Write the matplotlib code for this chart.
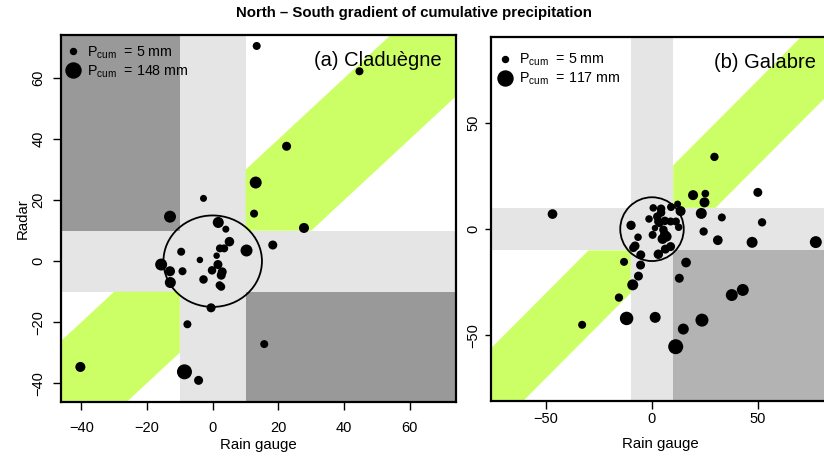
import numpy as np
import matplotlib
matplotlib.use('Agg')
import matplotlib.pyplot as plt
from matplotlib.patches import Circle, Rectangle
from matplotlib.lines import Line2D

plt.rcParams['font.family'] = ['Liberation Sans', 'DejaVu Sans']
plt.rcParams['mathtext.fontset'] = 'custom'
plt.rcParams['mathtext.rm'] = 'Liberation Sans'
plt.rcParams['mathtext.it'] = 'Liberation Sans:italic'

# (a) Claduegne : ecart pluviometre / radar, cumul de pluie (mm)
gauge_a = [13.4, 44.7, 22.5, 13.1, 12.6, 27.8, -2.8, -13.0, 1.7, 4.0,
           5.1, 18.3, 10.3, 2.2, 3.5, -9.6, -3.9, 1.2, 1.6, -15.7,
           -13.0, -9.2, -0.2, 2.9, 2.6, -2.8, -12.9, 2.1, 2.6, -0.5,
           -7.7, 15.7, -40.3, -8.6, -4.3]
radar_a = [70.6, 62.3, 37.7, 25.8, 15.6, 10.9, 20.6, 14.6, 12.7, 10.5,
           6.4, 5.3, 3.5, 4.2, 4.2, 3.1, 0.4, 1.8, -1.1, -1.1,
           -3.3, -3.3, -3.0, -3.5, -4.6, -6.0, -7.0, -7.9, -8.4, -15.3,
           -20.7, -27.2, -34.7, -36.3, -39.1]
pcum_a = [37, 37, 53, 100, 37, 69, 21, 100, 85, 21,
          61, 53, 100, 37, 37, 37, 13, 13, 53, 100,
          69, 37, 45, 53, 53, 45, 85, 37, 37, 53,
          37, 37, 69, 148, 53]

# (b) Galabre
gauge_b = [-47.0, 29.5, 19.4, 25.2, 24.8, 50.0, 23.3, 33.0, 52.0, 24.4,
           31.1, 47.3, 77.4, -9.9, -13.2, -5.4, -6.4, -9.1, -15.6, -33.0,
           -12.0, 1.5, 23.6, 14.8, 11.2, 16.1, 12.9, 37.7, 42.9,
           0.6, 4.3, 4.3, 9.0, 12.1, 13.5, -1.4, 2.5, 3.0, 3.5,
           6.1, 8.8, 11.3, 12.6, 1.4, 5.4, 0.3, 6.1, 6.9, 5.0,
           -6.6, -8.0, -8.8, 8.8, 6.3, 3.0, -5.3]
radar_b = [7.1, 34.0, 16.0, 16.7, 12.6, 17.3, 7.4, 5.5, 3.2, -1.1,
           -5.2, -6.2, -6.1, 1.8, -15.4, -16.9, -22.1, -26.2, -32.2, -45.0,
           -42.0, -41.5, -42.8, -47.0, -55.3, -15.7, -23.1, -31.0, -28.6,
           10.0, 9.6, 7.8, 10.4, 11.8, 8.5, 4.8, 5.9, 3.6, 2.8,
           3.9, 3.6, 3.6, 0.9, 0.5, -0.3, -2.7, -2.7, -3.5, -4.6,
           -3.8, -7.9, -8.8, -8.2, -9.4, -11.8, -12.1]
pcum_b = [51, 34, 55, 26, 55, 42, 67, 30, 34, 34,
          51, 67, 79, 46, 30, 42, 42, 67, 34, 30,
          98, 67, 92, 67, 117, 51, 42, 79, 79,
          24, 36, 36, 30, 17, 55, 24, 36, 36, 30,
          36, 30, 30, 24, 11, 36, 30, 55, 55, 55,
          24, 42, 36, 42, 42, 48, 42]

legende_a = [5, 148]
legende_b = [5, 117]

seuil = 10    # bandes grises +/- 10 mm
bande = 20    # demi-largeur de la bande verte autour de y = x
rayon = 15    # cercle central

gris_clair = '#E5E5E5'
vert = '#CCFF66'


def diametre(p, pmin, pmax):
    # diametre en pixels (dpi 100)
    return 6 + 9 * (np.asarray(p, float) - pmin) / (pmax - pmin)


def panneau(ax, gx, ry, pc, leg, gris_fonce, deux_coins, nom, xlim, ylim, ticks_x, ticks_y,
            leg_pos, tx, ty, xlabpad):
    big = 1000
    ax.axvspan(-seuil, seuil, color=gris_clair, lw=0, zorder=0)
    ax.axhspan(-seuil, seuil, color=gris_clair, lw=0, zorder=0)
    ax.add_patch(Rectangle((seuil, -big), big, big - seuil, color=gris_fonce, lw=0, zorder=0))
    if deux_coins:
        ax.add_patch(Rectangle((-big, seuil), big - seuil, big, color=gris_fonce, lw=0, zorder=0))

    # bande verte (|radar - pluvio| < 20) hors des bandes grises
    xh = np.array([seuil, seuil + bande, big])
    ax.fill_between(xh, np.maximum(xh - bande, seuil), xh + bande, color=vert, lw=0, zorder=0.5)
    xb = np.array([-big, -seuil - bande, -seuil])
    ax.fill_between(xb, xb - bande, np.minimum(xb + bande, -seuil), color=vert, lw=0, zorder=0.5)

    ax.add_patch(Circle((0, 0), rayon, fill=False, ec='black', lw=1.3, zorder=2))

    d = diametre(pc, leg[0], leg[1])
    ax.scatter(gx, ry, s=(0.72 * d) ** 2, c='black', edgecolors='none', zorder=3)

    poignees = [Line2D([], [], ls='', marker='o', color='black',
                       markersize=0.72 * diametre(v, leg[0], leg[1])) for v in leg]
    etiquettes = [r'$\mathrm{P_{cum}}$  = %d mm' % v for v in leg]
    ax.legend(poignees, etiquettes, loc='upper left', bbox_to_anchor=leg_pos,
              frameon=False, borderpad=0, borderaxespad=0, handlelength=1.0,
              handletextpad=0.5, labelspacing=0.18, fontsize=10.3)

    ax.annotate(nom, xy=(1, 1), xycoords='axes fraction', xytext=(-10, -18),
                textcoords='offset points', ha='right', va='center', fontsize=14.5)

    ax.set_xticks(ticks_x)
    ax.set_yticks(ticks_y)
    ax.set_xlim(xlim)
    ax.set_ylim(ylim)
    ax.tick_params(axis='x', length=tx[0], width=1, labelsize=10.5, pad=tx[1])
    ax.tick_params(axis='y', length=ty[0], width=1, labelsize=10.5, pad=ty[1])
    for lab in ax.get_yticklabels():
        lab.set_rotation(90)
        lab.set_va('center')
    for s in ax.spines.values():
        s.set_linewidth(1.6)
        s.set_zorder(5)
    ax.set_xlabel('Rain gauge', fontsize=10.8, labelpad=xlabpad)


fig = plt.figure(figsize=(8.24, 4.57), dpi=100)
ax1 = fig.add_axes([61 / 824, 55 / 457, 395 / 824, 367 / 457])
ax2 = fig.add_axes([491 / 824, 56 / 457, 339 / 824, 364 / 457])

panneau(ax1, gauge_a, radar_a, pcum_a, legende_a, '#999999', True, '(a) Claduègne',
        (-46.2, 74.1), (-46.2, 74.2), [-40, -20, 0, 20, 40, 60], [-40, -20, 0, 20, 40, 60],
        (0.012, 0.975), (6, 7.6), (6, 5.3), 2.5)
panneau(ax2, gauge_b, radar_b, pcum_b, legende_b, '#B3B3B3', False, '(b) Galabre',
        (-76.06, 84.1), (-80.85, 90.4), [-50, 0, 50], [-50, 0, 50],
        (0.02, 0.96), (6, 1.8), (4.3, 3.5), 8.2)
ax1.set_ylabel('Radar', fontsize=10.8, labelpad=1.2)

fig.text(0.502, 0.972, 'North – South gradient of cumulative precipitation',
         ha='center', va='center', fontsize=10.8, fontweight='bold')

fig.savefig('out.png', dpi=100)
